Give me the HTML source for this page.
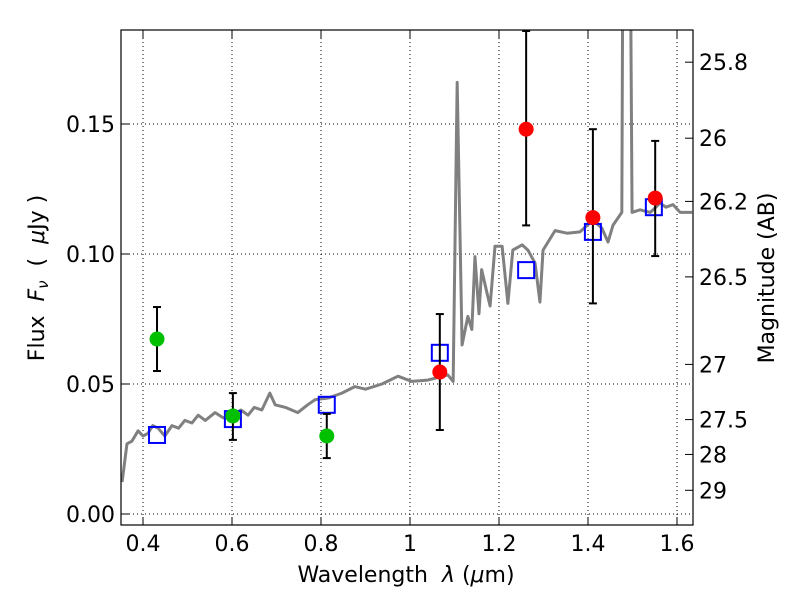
<!DOCTYPE html>
<html><head><meta charset="utf-8"><style>
body{margin:0;background:#fff}
svg text{font-family:"DejaVu Sans","Liberation Sans",sans-serif;fill:#000}
</style></head><body>
<svg id="c" width="800" height="600" xmlns="http://www.w3.org/2000/svg"></svg>
<script>
const specX=[0.353,0.364,0.375,0.389,0.40,0.411,0.422,0.434,0.449,0.465,0.48,0.494,0.51,0.524,0.54,0.562,0.58,0.6,0.62,0.636,0.65,0.667,0.685,0.697,0.72,0.748,0.77,0.787,0.816,0.847,0.876,0.90,0.937,0.973,1.004,1.04,1.085,1.097,1.106,1.117,1.13,1.139,1.146,1.155,1.161,1.173,1.18,1.191,1.207,1.22,1.231,1.252,1.265,1.281,1.292,1.299,1.326,1.353,1.382,1.411,1.431,1.445,1.456,1.476,1.479,1.494,1.499,1.517,1.54,1.562,1.575,1.591,1.607,1.634];
const specY=[0.0123,0.027,0.028,0.032,0.030,0.031,0.034,0.033,0.030,0.034,0.033,0.036,0.035,0.038,0.036,0.039,0.037,0.038,0.040,0.038,0.041,0.040,0.0465,0.042,0.041,0.039,0.042,0.044,0.0446,0.0465,0.049,0.048,0.050,0.053,0.051,0.0515,0.0535,0.051,0.166,0.065,0.076,0.071,0.099,0.077,0.094,0.085,0.080,0.103,0.103,0.081,0.1015,0.1035,0.1015,0.0965,0.0815,0.1015,0.109,0.108,0.1085,0.113,0.110,0.1046,0.111,0.116,0.25,0.25,0.116,0.117,0.116,0.1196,0.118,0.119,0.116,0.116];
const greenX=[0.4315,0.602,0.813];
const greenY=[0.0673,0.0377,0.030];
const greenHi=[0.0796,0.0465,0.0385];
const greenLo=[0.055,0.0285,0.0215];
const redX=[1.067,1.261,1.411,1.551];
const redY=[0.0546,0.148,0.114,0.1215];
const redHi=[0.0769,0.186,0.148,0.1435];
const redLo=[0.0323,0.111,0.081,0.0992];
const boxX=[0.4315,0.602,0.813,1.067,1.261,1.411,1.548];
const boxY=[0.0304,0.0365,0.042,0.062,0.0938,0.1085,0.118];
const xTicks=[0.4,0.6,0.8,1.0,1.2,1.4,1.6];
const xTickLabels=["0.4","0.6","0.8","1","1.2","1.4","1.6"];
const yTicks=[0,0.05,0.10,0.15];
const yTickLabels=["0.00","0.05","0.10","0.15"];
const magTicks=[25.8,26,26.2,26.5,27,27.5,28,29];
const magLabels=["25.8","26","26.2","26.5","27","27.5","28","29"];

const L=121,R=693,T=30,B=525;
const sx=v=>143+(v-0.4)*445;
const sy=v=>514-v*2600;
const svg=document.getElementById('c');
const NS="http://www.w3.org/2000/svg";
function mk(tag,at,parent){const e=document.createElementNS(NS,tag);for(const k in at)e.setAttribute(k,at[k]);(parent||svg).appendChild(e);return e;}
const clip=mk('clipPath',{id:'pc'});mk('rect',{x:L,y:T,width:R-L,height:B-T},clip);
xTicks.forEach((v,i)=>{const g=mk('line',{x1:sx(v),x2:sx(v),y1:T,y2:B,stroke:'#000','stroke-dasharray':'1,3','stroke-width':1});
});
yTicks.forEach(v=>{const g=mk('line',{x1:L,x2:R,y1:sy(v),y2:sy(v),stroke:'#000','stroke-dasharray':'1,3','stroke-width':1});
});
const sp=mk('polyline',{points:specX.map((x,i)=>sx(x)+','+sy(specY[i])).join(' '),fill:'none',stroke:'#808080','stroke-width':3,'stroke-linejoin':'round','clip-path':'url(#pc)'});


boxX.forEach((x,i)=>{const r=mk('rect',{x:sx(x)-8,y:sy(boxY[i])-8,width:16,height:16,fill:'none',stroke:'#0000ff','stroke-width':2});
});
function pts(X,Y,Hi,Lo,col,name){X.forEach((x,i)=>{const g=mk('g',{});

const px=sx(x);let yh=Math.max(sy(Hi[i]),T+1);
mk('line',{x1:px,x2:px,y1:yh,y2:sy(Lo[i]),stroke:'#000','stroke-width':2},g);
mk('line',{x1:px-4,x2:px+4,y1:yh,y2:yh,stroke:'#000','stroke-width':2},g);
mk('line',{x1:px-4,x2:px+4,y1:sy(Lo[i]),y2:sy(Lo[i]),stroke:'#000','stroke-width':2},g);
mk('circle',{cx:px,cy:sy(Y[i]),r:7.5,fill:col},g);});}
pts(greenX,greenY,greenHi,greenLo,'#00c000','observed-point-green');
pts(redX,redY,redHi,redLo,'#ff0000','observed-point-red');
const fr=mk('rect',{x:L,y:T,width:R-L,height:B-T,fill:'none',stroke:'#000','stroke-width':1.2});

xTicks.forEach((v,i)=>{const x=sx(v);mk('line',{x1:x,x2:x,y1:B,y2:B-8,stroke:'#000'});mk('line',{x1:x,x2:x,y1:T,y2:T+8,stroke:'#000'});
const t=mk('text',{x:x,y:B+26,'text-anchor':'middle','font-size':22});t.textContent=xTickLabels[i];
});
yTicks.forEach((v,i)=>{const y=sy(v);mk('line',{x1:L,x2:L+8,y1:y,y2:y,stroke:'#000'});
const t=mk('text',{x:L-6,y:y+8,'text-anchor':'end','font-size':22});t.textContent=yTickLabels[i];
});
magTicks.forEach((m,i)=>{const y=sy(Math.pow(10,(23.9-m)/2.5));mk('line',{x1:R,x2:R-8,y1:y,y2:y,stroke:'#000'});
const t=mk('text',{x:R+6,y:y+8,'font-size':22});t.textContent=magLabels[i];
});
</script>
<svg width="800" height="600" style="position:absolute;left:0;top:0" xmlns="http://www.w3.org/2000/svg">
<text x="406" y="582" text-anchor="middle" font-size="22" xml:space="preserve">Wavelength  <tspan font-style="italic">λ</tspan> (<tspan font-style="italic">μ</tspan>m)</text>
<text transform="translate(44,278) rotate(-90)" text-anchor="middle" font-size="22" xml:space="preserve">Flux  <tspan font-style="italic">F</tspan><tspan font-style="italic" font-size="15" dy="4">ν</tspan><tspan dy="-4">  (  </tspan><tspan font-style="italic">μ</tspan>Jy )</text>
<text transform="translate(774,278) rotate(-90)" text-anchor="middle" font-size="22">Magnitude (AB)</text>
</svg>
</body></html>
